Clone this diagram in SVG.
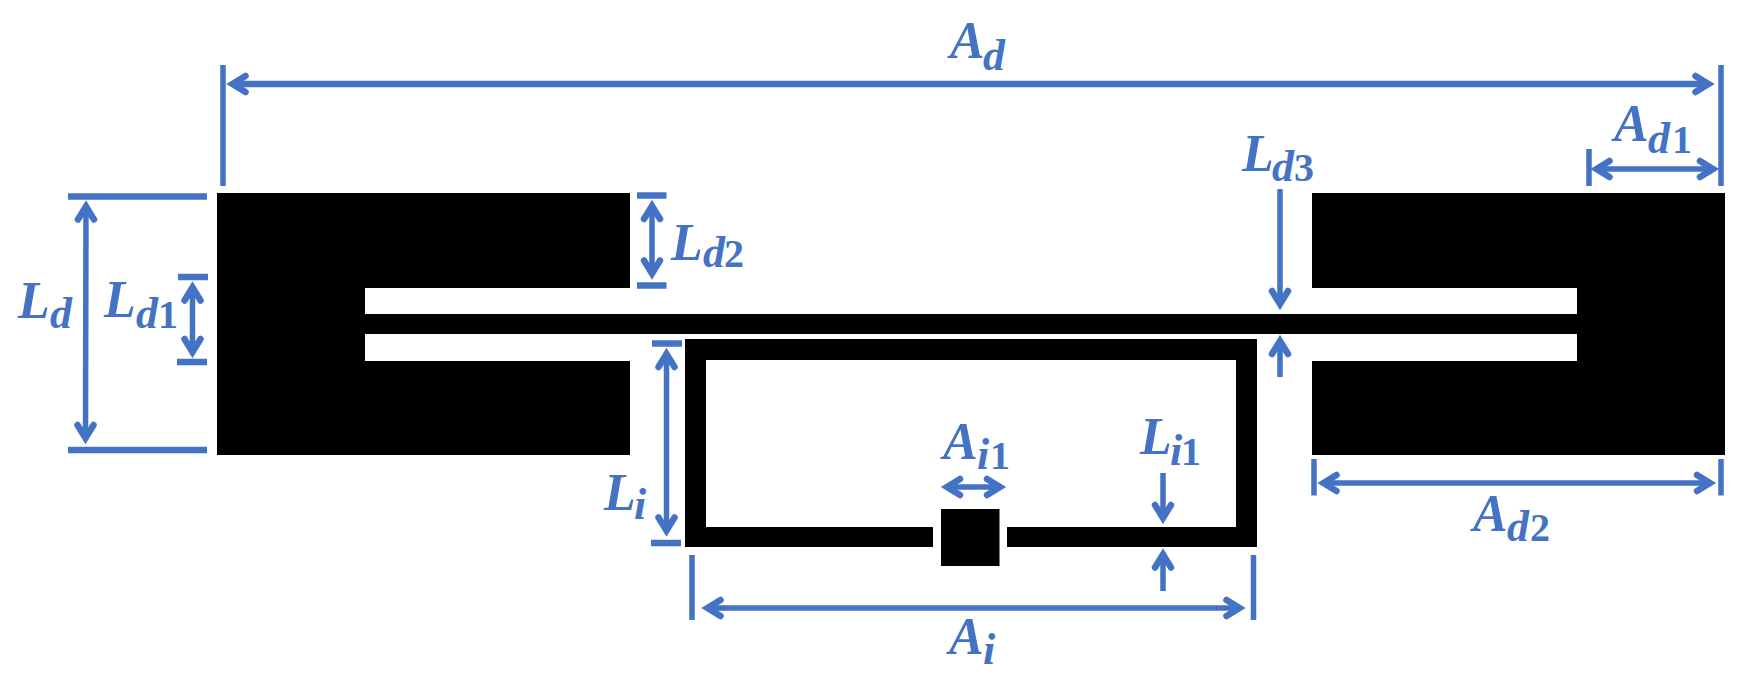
<svg xmlns="http://www.w3.org/2000/svg" width="1757" height="691" viewBox="0 0 1757 691">
<style>
.m{fill:#000}
.d line{stroke:#4472C4;stroke-width:5.5;fill:none}
.d line.k{stroke-width:6.500}
.a{marker-end:url(#h)}
.b{marker-start:url(#h);marker-end:url(#h)}
text{font-family:"Liberation Serif","Times New Roman",serif;font-weight:bold;fill:#4472C4}
.v{font-size:52px;font-style:italic}
.s{font-size:44px;font-style:italic}
.n{font-size:40px;font-style:normal}
</style>
<defs>
<marker id="h" markerUnits="userSpaceOnUse" viewBox="-26 -14 30 28" markerWidth="30" markerHeight="28" refX="-5" refY="0" orient="auto-start-reverse">
<path d="M-18,-8 L-5,0 L-18,8" fill="none" stroke="#4472C4" stroke-width="6.500" stroke-linecap="round"/>
</marker>
</defs>
<rect width="1757" height="691" fill="#fff"/>
<g id="dipole-element"><path class="m" d="M217,193H630V288H365V314H1577V288H1312V193H1725V455H1312V361H1577V334H365V361H630V455H217Z"/></g>
<g id="loop-element"><path class="m" fill-rule="evenodd" d="M685,339H1257V547H1007V527H1236V360H706V527H933V547H685Z"/><rect class="m" x="941" y="509" width="58.500" height="57"/></g>
<g id="connectors" class="d">
<line x1="223" y1="65" x2="223" y2="186"/><line x1="1721" y1="65" x2="1721" y2="186"/>
<line class="b k" x1="232.500" y1="84" x2="1708.500" y2="84"/>
<line x1="1589" y1="149" x2="1589" y2="186"/>
<line class="b" x1="1596.500" y1="169" x2="1713" y2="169"/>
<line class="k" x1="68" y1="196.500" x2="207" y2="196.500"/><line class="k" x1="68" y1="450" x2="207" y2="450"/>
<line class="b" x1="86" y1="206.500" x2="85.500" y2="438"/>
<line class="k" x1="178" y1="277" x2="208" y2="277"/><line class="k" x1="177" y1="362" x2="207" y2="362"/>
<line class="b" x1="192.500" y1="287.500" x2="192.500" y2="352"/>
<line class="k" x1="637" y1="195.500" x2="666.500" y2="195.500"/><line class="k" x1="637" y1="285.500" x2="666.500" y2="285.500"/>
<line class="b" x1="652" y1="206" x2="652" y2="273.500"/>
<line class="k" x1="652" y1="343.500" x2="682" y2="343.500"/><line class="k" x1="651" y1="543" x2="681" y2="543"/>
<line class="b" x1="666.500" y1="354" x2="666.500" y2="530.500"/>
<line class="a" x1="1280" y1="189" x2="1280" y2="304"/>
<line class="a" x1="1280" y1="377" x2="1280" y2="341"/>
<line x1="1314" y1="459" x2="1314" y2="495.500"/><line x1="1721" y1="459" x2="1721" y2="495.500"/>
<line class="b" x1="1323.500" y1="483" x2="1710" y2="483"/>
<line x1="692" y1="555" x2="692" y2="620"/><line x1="1253.500" y1="555" x2="1253.500" y2="620"/>
<line class="b" x1="707.500" y1="608" x2="1239.500" y2="608"/>
<line class="b" x1="947" y1="487" x2="1000" y2="487"/>
<line class="a" x1="1163" y1="473" x2="1163" y2="518"/>
<line class="a" x1="1163" y1="591" x2="1163" y2="554.500"/>
</g>
<g id="labels">
<text><tspan class="v" x="950" y="58">A</tspan><tspan class="s" x="983" y="69.500">d</tspan></text>
<text><tspan class="v" x="1614" y="141">A</tspan><tspan class="s" x="1648" y="152.500">d</tspan><tspan class="n" x="1672" y="152.500">1</tspan></text>
<text><tspan class="v" x="1242" y="171">L</tspan><tspan class="s" x="1272" y="181">d</tspan><tspan class="n" x="1294" y="181">3</tspan></text>
<text><tspan class="v" x="671" y="260">L</tspan><tspan class="s" x="703" y="267">d</tspan><tspan class="n" x="724" y="267">2</tspan></text>
<text><tspan class="v" x="18" y="318">L</tspan><tspan class="s" x="50" y="328">d</tspan></text>
<text><tspan class="v" x="104" y="317">L</tspan><tspan class="s" x="136" y="328">d</tspan><tspan class="n" x="158" y="328">1</tspan></text>
<text><tspan class="v" x="604" y="510">L</tspan><tspan class="s" x="634" y="519">i</tspan></text>
<text><tspan class="v" x="943" y="459">A</tspan><tspan class="s" x="977" y="469">i</tspan><tspan class="n" x="990" y="469">1</tspan></text>
<text><tspan class="v" x="1140" y="454">L</tspan><tspan class="s" x="1170" y="465">i</tspan><tspan class="n" x="1181" y="465">1</tspan></text>
<text><tspan class="v" x="1473" y="531">A</tspan><tspan class="s" x="1507" y="541">d</tspan><tspan class="n" x="1530" y="541">2</tspan></text>
<text><tspan class="v" x="949" y="654">A</tspan><tspan class="s" x="983" y="664">i</tspan></text>
</g>
</svg>
